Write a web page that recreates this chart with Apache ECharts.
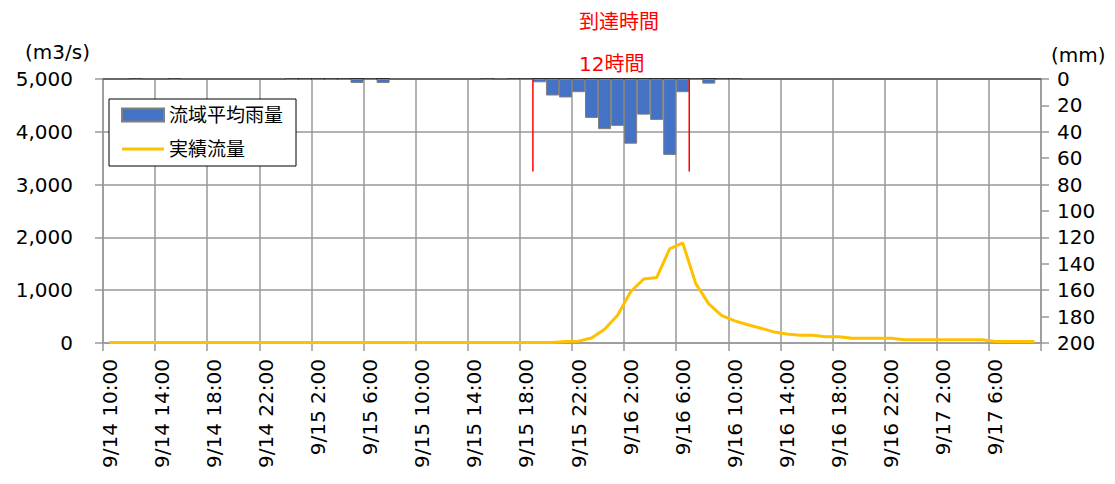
<!DOCTYPE html>
<html>
<head>
<meta charset="utf-8">
<script src="https://cdn.jsdelivr.net/npm/echarts@6/dist/echarts.min.js"></script>
<style>
html,body{margin:0;padding:0;background:#fff;}
#c{width:1115px;height:484px;}
</style>
</head>
<body>
<div id="c"></div>
<script>
// Hourly categories from 9/14 10:00 (72 hours)
var startDay = 14, startHour = 10, hours = 72;
var categories = [];
for (var k = 0; k < hours; k++) {
  var h = startHour + k;
  categories.push('9/' + (startDay + Math.floor(h / 24)) + ' ' + (h % 24) + ':00');
}

// 流域平均雨量 (mm), hourly
var rainfall = [
  0, 0, 0.5, 0, 0, 0.5, 0, 0, 0, 0, 0, 0, 0, 0, 0.5, 0.5, 0.5, 0.5, 0.5, 3,
  0.5, 3, 0, 0, 0, 0, 0, 0, 0, 0.5, 0, 0.5, 0.5, 2.5, 12.5, 14, 10, 29.5, 38, 35.5,
  49, 27, 31, 57.5, 10, 0.5, 3.5, 0.5, 0.5, 0, 0, 0, 0, 0, 0, 0, 0, 0, 0, 0,
  0, 0, 0, 0, 0, 0, 0, 0, 0, 0, 0, 0
];

// 実績流量 (m3/s), hourly
var flow = [
  10, 10, 10, 10, 10, 10, 10, 10, 10, 10, 10, 10, 10, 10, 10, 10, 10, 10, 10, 10,
  10, 10, 10, 10, 10, 10, 10, 10, 10, 10, 10, 10, 10, 10, 10, 30, 35, 95, 260, 525,
  970, 1210, 1240, 1785, 1895, 1125, 740, 517, 420, 345, 280, 210, 170, 145, 145, 120, 120, 90, 90, 90,
  90, 60, 60, 60, 60, 60, 60, 60, 30, 30, 30, 30
];

// Arrival-time window boundaries (hour index) and line length (mm)
var arrivalStart = 33, arrivalEnd = 45, arrivalLineDepth = 70;
var arrivalTitle = '到達時間';
var arrivalLabel = '12時間';

var leftTicks = { min: 0, max: 5000, interval: 1000 };
var rightTicks = { min: 0, max: 200, interval: 20 };
var labelEvery = 4;

var FONT = '"DejaVu Sans", "Noto Sans CJK JP", sans-serif';
var GRID = '#999999';

var chart = echarts.init(document.getElementById('c'), null, { renderer: 'svg' });
chart.setOption({
  animation: false,
  backgroundColor: '#fff',
  textStyle: { fontFamily: FONT },
  title: [
    { text: arrivalTitle, left: 579, top: 12, padding: 0,
      textStyle: { color: '#ff0000', fontSize: 20, fontWeight: 'normal', fontFamily: FONT } },
    { text: arrivalLabel, left: 579, top: 54, padding: 0,
      textStyle: { color: '#ff0000', fontSize: 20, fontWeight: 'normal', fontFamily: FONT } }
  ],
  legend: {
    data: [
      { name: '流域平均雨量', icon: 'rect' },
      { name: '実績流量', icon: 'path://M0,0 L0.01,0 L0.01,0.01 Z M0,5 L42,5 L42,8 L0,8 Z M41.99,13 L42,13 L42,12.99 Z' }
    ],
    orient: 'vertical',
    left: 109, top: 99,
    padding: [6, 13, 7, 12],
    itemWidth: 42, itemHeight: 13, itemGap: 14,
    borderColor: '#000', borderWidth: 1, backgroundColor: '#fff',
    textStyle: { fontSize: 19, color: '#000', fontFamily: FONT, lineHeight: 20 },
    z: 10
  },
  grid: { left: 103, right: 74, top: 79, bottom: 141, containLabel: false },
  xAxis: [
    {
      type: 'category', data: categories, boundaryGap: true, position: 'bottom',
      axisLine: { show: true, onZero: false, lineStyle: { color: GRID, width: 1.5 } },
      axisTick: { show: true, length: 8, lineStyle: { color: GRID, width: 1.5 },
        interval: function (i) { return i % labelEvery === 0; } },
      axisLabel: { rotate: 90, margin: 16, fontSize: 20, color: '#000', fontFamily: FONT,
        interval: function (i) { return i % labelEvery === 0; } },
      splitLine: { show: true, lineStyle: { color: GRID, width: 1.5 },
        interval: function (i) { return i % labelEvery === 0; } }
    },
    {
      type: 'value', min: 0, max: hours, interval: labelEvery, position: 'top',
      axisLine: { show: true, onZero: false, lineStyle: { color: '#000', width: 1.5 } },
      axisTick: { show: false }, axisLabel: { show: false },
      splitLine: { show: false }
    }
  ],
  yAxis: [
    {
      type: 'value', min: leftTicks.min, max: leftTicks.max, interval: leftTicks.interval, position: 'left',
      name: '(m3/s)', nameLocation: 'end', nameGap: 17,
      nameTextStyle: { fontSize: 20, color: '#000', align: 'right', padding: [0, 13, 0, 0], fontFamily: FONT },
      axisLine: { show: true, onZero: false, lineStyle: { color: GRID, width: 1.5 } },
      axisTick: { show: true, length: 8, lineStyle: { color: GRID, width: 1.5 } },
      axisLabel: { fontSize: 20, color: '#000', margin: 30, fontFamily: FONT,
        formatter: function (v) { return v.toLocaleString('en-US'); } },
      splitLine: { show: true, lineStyle: { color: GRID, width: 1.5 } }
    },
    {
      type: 'value', min: rightTicks.min, max: rightTicks.max, interval: rightTicks.interval, inverse: true, position: 'right',
      name: '(mm)', nameLocation: 'start', nameGap: 14,
      nameTextStyle: { fontSize: 20, color: '#000', align: 'left', padding: [0, 0, 0, 10], lineHeight: 20, fontFamily: FONT },
      axisLine: { show: true, onZero: false, lineStyle: { color: GRID, width: 1.5 } },
      axisTick: { show: true, length: 8, lineStyle: { color: GRID, width: 1.5 } },
      axisLabel: { fontSize: 20, color: '#000', margin: 16, fontFamily: FONT },
      splitLine: { show: false }
    }
  ],
  series: [
    {
      name: '流域平均雨量', type: 'bar', xAxisIndex: 0, yAxisIndex: 1, data: rainfall,
      barCategoryGap: '0%',
      itemStyle: { color: '#4472c4', borderColor: '#7f7f7f', borderWidth: 1 },
      z: 3
    },
    {
      name: '実績流量', type: 'line', xAxisIndex: 0, yAxisIndex: 0, data: flow,
      symbol: 'none', showSymbol: false,
      lineStyle: { color: '#ffc000', width: 3 }, itemStyle: { color: '#ffc000' },
      z: 4
    },
    {
      name: 'arrivalStart', type: 'line', xAxisIndex: 1, yAxisIndex: 1,
      data: [[arrivalStart, 0], [arrivalStart, arrivalLineDepth]],
      symbol: 'none', lineStyle: { color: '#ff0000', width: 1.5 }, z: 5, silent: true
    },
    {
      name: 'arrivalEnd', type: 'line', xAxisIndex: 1, yAxisIndex: 1,
      data: [[arrivalEnd, 0], [arrivalEnd, arrivalLineDepth]],
      symbol: 'none', lineStyle: { color: '#ff0000', width: 1.5 }, z: 5, silent: true
    }
  ]
});
</script>
</body>
</html>
